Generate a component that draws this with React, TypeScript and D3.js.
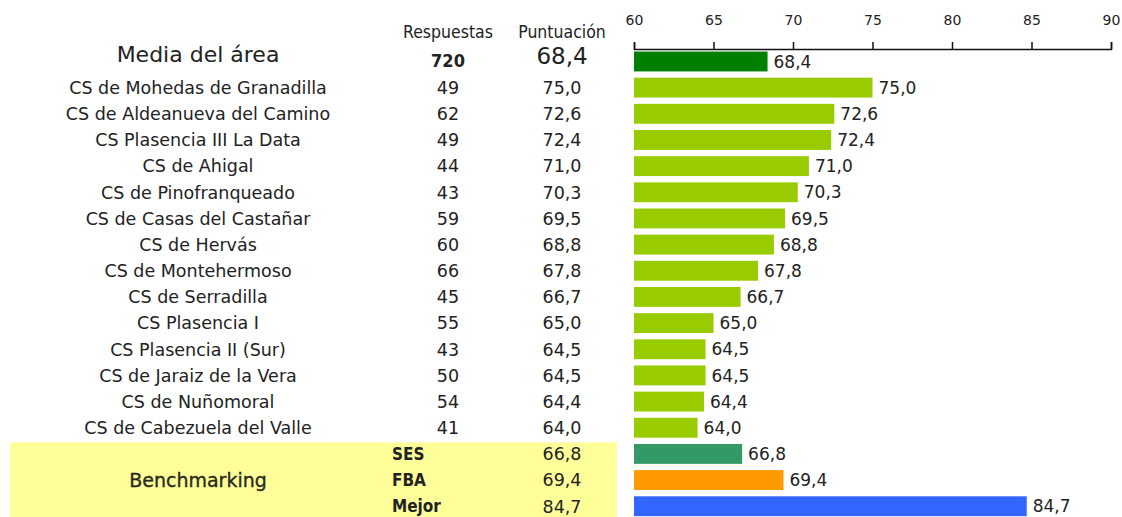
import React, { useEffect, useRef } from "react";
import * as d3 from "d3";

const centers: string[] = [
  "CS de Mohedas de Granadilla",
  "CS de Aldeanueva del Camino",
  "CS Plasencia III La Data",
  "CS de Ahigal",
  "CS de Pinofranqueado",
  "CS de Casas del Castañar",
  "CS de Hervás",
  "CS de Montehermoso",
  "CS de Serradilla",
  "CS Plasencia I",
  "CS Plasencia II (Sur)",
  "CS de Jaraiz de la Vera",
  "CS de Nuñomoral",
  "CS de Cabezuela del Valle",
];
const responses: number[] = [49, 62, 49, 44, 43, 59, 60, 66, 45, 55, 43, 50, 54, 41];
const scores: number[] = [75.0, 72.6, 72.4, 71.0, 70.3, 69.5, 68.8, 67.8, 66.7, 65.0, 64.5, 64.5, 64.4, 64.0];

const areaLabel = "Media del área";
const areaResponses = 720;
const areaScore = 68.4;

const benchLabels: string[] = ["SES", "FBA", "Mejor"];
const benchScores: number[] = [66.8, 69.4, 84.7];
const benchColors: string[] = ["#339966", "#ff9900", "#3366ff"];

const axisTicks: number[] = [60, 65, 70, 75, 80, 85, 90];

const W = 1122;
const H = 517;
const FONT = "'DejaVu Sans', Verdana, sans-serif";
const COND = "'DejaVu Sans Condensed', 'DejaVu Sans', sans-serif";
const TXT = "#222";
const fmt = (v: number) => v.toFixed(1).replace(".", ",");

export default function App() {
  const ref = useRef<SVGSVGElement>(null);

  useEffect(() => {
    const svg = d3.select(ref.current);
    svg.selectAll("*").remove();

    const keys = ["area", ...centers, ...benchLabels];
    const y = d3.scaleBand<string>().domain(keys).range([48.4, 519.3]).paddingInner(0.24).paddingOuter(0.12);
    const x = d3.scaleLinear().domain([60, 90]).range([634, 1111]);
    const cy = (k: string) => (y(k) as number) + y.bandwidth() / 2;

    // benchmarking background
    const b0 = cy(benchLabels[0]) - y.step() / 2 + 1.5;
    svg.append("rect").attr("x", 10).attr("y", b0).attr("width", 607).attr("height", H - b0).attr("fill", "#ffff99");

    // axis
    const ax = svg.append("g").attr("transform", "translate(0,49)")
      .call(d3.axisTop(x).tickValues(axisTicks).tickSize(7).tickPadding(17).tickFormat(d3.format("d")));
    ax.select(".domain").attr("stroke", "#111").attr("stroke-width", 1.5);
    ax.selectAll(".tick line").attr("stroke", "#111").attr("stroke-width", 1.5);
    ax.selectAll(".tick text").attr("font-family", FONT).attr("font-size", 14).attr("fill", TXT);

    // headers
    const hdr = svg.append("g").attr("font-family", COND).attr("font-size", 17.5).attr("fill", TXT).attr("text-anchor", "middle");
    hdr.append("text").attr("x", 448).attr("y", 38).text("Respuestas");
    hdr.append("text").attr("x", 562).attr("y", 38).text("Puntuación");

    // area row
    const ay = cy("area");
    svg.append("text").attr("x", 198).attr("y", ay + 1).attr("text-anchor", "middle").attr("font-family", FONT).attr("font-size", 22).attr("fill", TXT).text(areaLabel);
    svg.append("text").attr("x", 448).attr("y", ay + 6).attr("text-anchor", "middle").attr("font-family", COND).attr("font-size", 18).attr("font-weight", "bold").attr("fill", TXT).text(areaResponses);
    svg.append("text").attr("x", 562).attr("y", ay + 3).attr("text-anchor", "middle").attr("font-family", FONT).attr("font-size", 23).attr("fill", TXT).text(fmt(areaScore));
    svg.append("rect").attr("x", x(60)).attr("y", y("area") as number).attr("width", x(areaScore) - x(60)).attr("height", y.bandwidth()).attr("fill", "#008000");
    svg.append("text").attr("x", x(areaScore) + 6).attr("y", ay).attr("dy", "0.36em").attr("font-family", FONT).attr("font-size", 17).attr("fill", TXT).text(fmt(areaScore));

    // centers
    const rows = svg.append("g").attr("font-family", FONT).attr("fill", TXT);
    centers.forEach((c, i) => {
      const yc = cy(c);
      rows.append("text").attr("x", 198).attr("y", yc).attr("dy", "0.36em").attr("text-anchor", "middle").attr("font-size", 17.5).text(c);
      rows.append("text").attr("x", 448).attr("y", yc).attr("dy", "0.36em").attr("text-anchor", "middle").attr("font-size", 17.5).text(responses[i]);
      rows.append("text").attr("x", 562).attr("y", yc).attr("dy", "0.36em").attr("text-anchor", "middle").attr("font-size", 17.5).text(fmt(scores[i]));
      rows.append("rect").attr("x", x(60)).attr("y", y(c) as number).attr("width", x(scores[i]) - x(60)).attr("height", y.bandwidth()).attr("fill", "#99cc00");
      rows.append("text").attr("x", x(scores[i]) + 6).attr("y", yc).attr("dy", "0.36em").attr("font-size", 17).text(fmt(scores[i]));
    });

    // benchmarking
    const bench = svg.append("g").attr("font-family", FONT).attr("fill", TXT);
    bench.append("text").attr("x", 198).attr("y", cy(benchLabels[1])).attr("dy", "0.36em").attr("text-anchor", "middle").attr("font-size", 19).attr("fill", "#2a2a1a").attr("stroke", "#2a2a1a").attr("stroke-width", 0.35).text("Benchmarking");
    benchLabels.forEach((b, j) => {
      const yc = cy(b);
      bench.append("text").attr("x", 392).attr("y", yc).attr("dy", "0.36em").attr("font-family", COND).attr("font-weight", "bold").attr("font-size", 17).text(b);
      bench.append("text").attr("x", 562).attr("y", yc).attr("dy", "0.36em").attr("text-anchor", "middle").attr("font-size", 17.5).text(fmt(benchScores[j]));
      bench.append("rect").attr("x", x(60)).attr("y", y(b) as number).attr("width", x(benchScores[j]) - x(60)).attr("height", y.bandwidth()).attr("fill", benchColors[j]);
      bench.append("text").attr("x", x(benchScores[j]) + 6).attr("y", yc).attr("dy", "0.36em").attr("font-size", 17).text(fmt(benchScores[j]));
    });
  }, []);

  return (
    <svg ref={ref} width={W} height={H} style={{ position: "absolute", left: 0, top: 0, background: "#fff" }} />
  );
}
